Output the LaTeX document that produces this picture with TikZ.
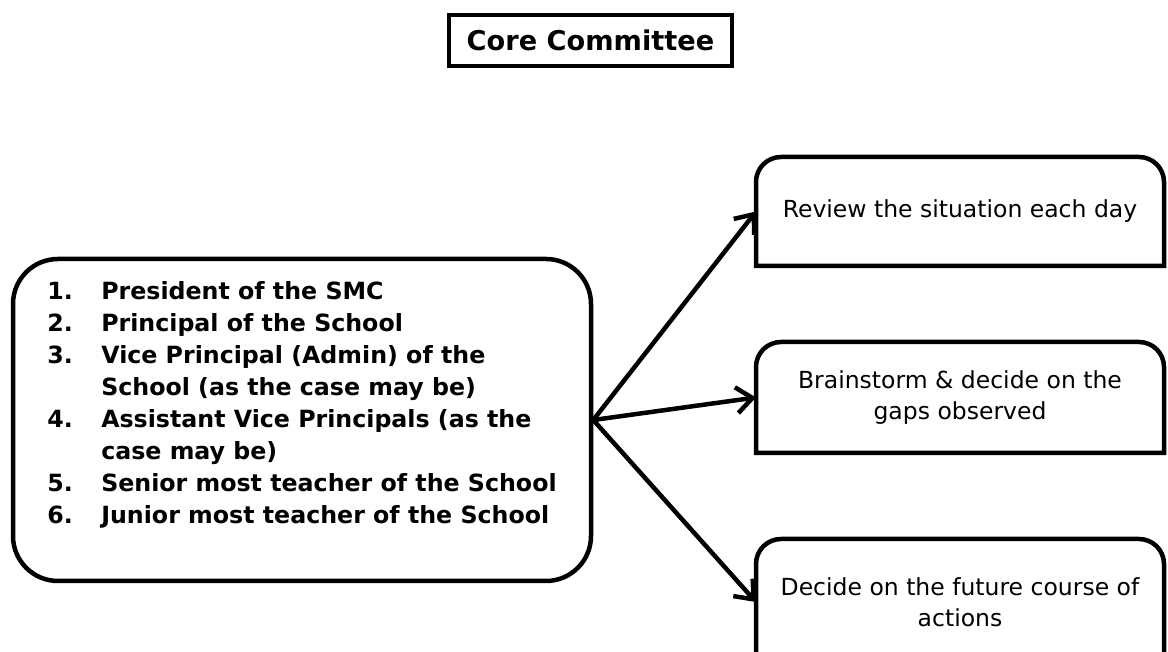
\documentclass[tikz,border=0pt]{standalone}
\usepackage{fontspec}
\setmainfont{DejaVu Sans}
\usetikzlibrary{arrows.meta}

\begin{document}
\begin{tikzpicture}[
    x=1pt, y=1pt,
    % Caixa do título
    titulo/.style={draw, line width=4.5pt, minimum width=283pt, minimum height=51pt,
      inner sep=0pt, font=\fontsize{27.2}{32}\selectfont\bfseries},
    % Caixa com a lista de membros
    lista/.style={draw, line width=4.5pt, rounded corners=45pt, minimum width=578pt,
      minimum height=322pt, inner sep=0pt, font=\fontsize{23.7}{32}\selectfont\bfseries},
    % Caixas das tarefas (o contorno é desenhado depois)
    tarefa/.style={minimum width=408pt, outer sep=0pt, inner sep=0pt, align=center,
      font=\fontsize{23.5}{31}\selectfont},
    % Contorno com os cantos de cima arredondados
    contorno/.style={line width=4.5pt},
    % Setas que saem da lista
    seta/.style={line width=4.5pt, -{Straight Barb[length=16pt, width=26pt]}}
  ]

  \useasboundingbox (0,0) rectangle (1168,652);

  % Título
  \node[titulo] (titulo) at (590.5,611.5) {Core Committee};

  % Lista de membros
  \node[lista] (membros) at (302,232) {%
    \begin{tabular}{@{}p{54pt}@{}l@{}}
      1. & President of the SMC\\
      2. & Principal of the School\\
      3. & Vice Principal (Admin) of the\\
         & School (as the case may be)\\
      4. & Assistant Vice Principals (as the\\
         & case may be)\\
      5. & Senior most teacher of the School\\
      6. & Junior most teacher of the School\\[30pt]
    \end{tabular}\hspace{9pt}};

  % Primeira tarefa
  \node[tarefa, minimum height=109pt] (revisar) at (960,440.5)
    {Review the situation each day};
  % Segunda tarefa
  \node[tarefa, minimum height=111pt] (discutir) at (960,254.5)
    {Brainstorm \& decide on the\\ gaps observed};
  % Terceira tarefa (sai da página embaixo)
  \node[tarefa, minimum height=126pt] (decidir) at (960,50)
    {Decide on the future course of\\ actions};

  % Contornos das tarefas
  \draw[contorno] (revisar.south west) [rounded corners=25pt] -- (revisar.north west)
    -- (revisar.north east) [sharp corners] -- (revisar.south east) -- cycle;
  \draw[contorno] (discutir.south west) [rounded corners=25pt] -- (discutir.north west)
    -- (discutir.north east) [sharp corners] -- (discutir.south east) -- cycle;
  \draw[contorno] (decidir.south west) [rounded corners=25pt] -- (decidir.north west)
    -- (decidir.north east) [sharp corners] -- (decidir.south east) -- cycle;

  % Setas
  \draw[seta] (membros.east) -- (revisar.west);
  \draw[seta] (membros.east) -- (discutir.west);
  \draw[seta] (membros.east) -- (decidir.west);

\end{tikzpicture}
\end{document}
